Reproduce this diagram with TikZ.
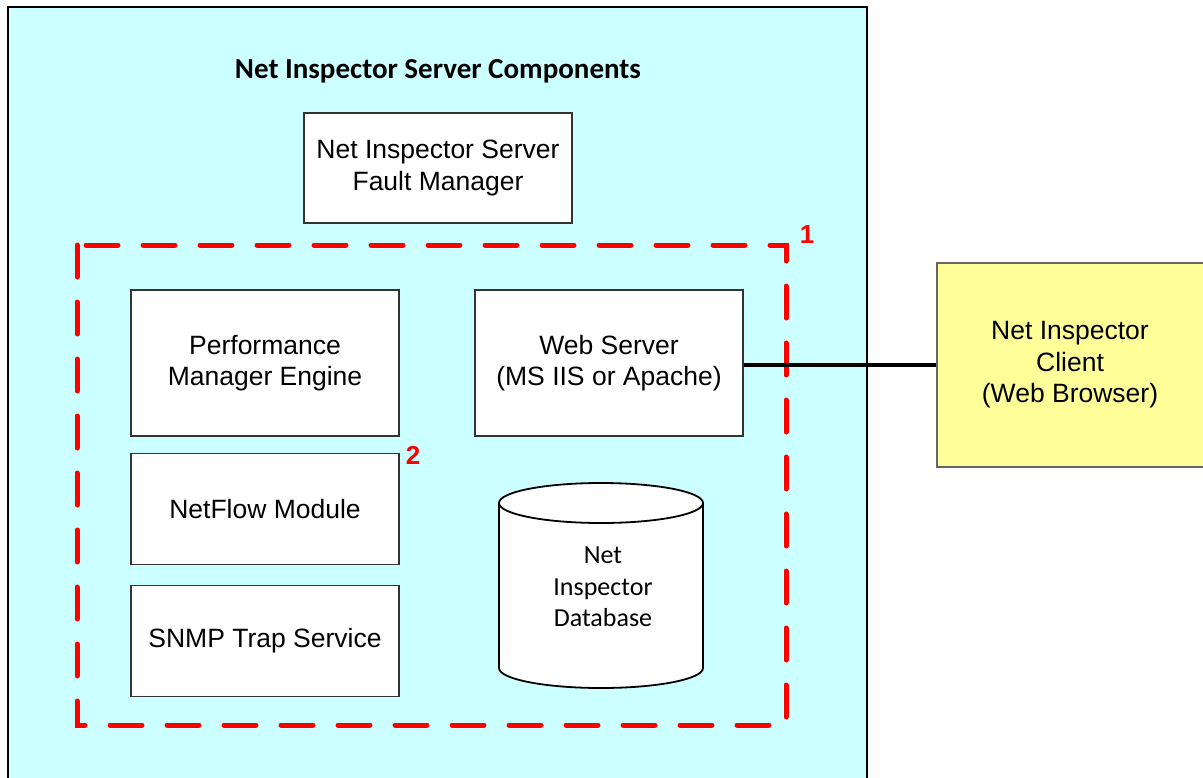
\documentclass[tikz,border=0pt]{standalone}
\usepackage{fontspec}
\setmainfont{Liberation Sans}
\newfontfamily\calfont{Carlito}
\begin{document}
\begin{tikzpicture}[x=1pt,y=-1pt,
  box/.style={draw=black!80, line width=1.2pt, fill=white, inner sep=0pt, align=center,
    font=\fontsize{26.5}{31.5}\selectfont},
  redlabel/.style={text=red, font=\fontsize{26}{30}\selectfont\bfseries, inner sep=0pt}]
\useasboundingbox (0,0) rectangle (1203,777);
% outer server box
\fill[fill={rgb,255:red,204;green,255;blue,255}] (8,7) rectangle (867,790);
\draw[line width=2.6pt] (8,790) -- (8,7) -- (867,7) -- (867,790);
\node[font=\calfont\fontsize{29}{33}\selectfont\bfseries, inner sep=0pt] (title) at (438,71) {Net Inspector Server Components};
% fault manager
\node[box, minimum width=268pt, minimum height=110pt] (fault) at (438,168) {Net Inspector Server\\Fault Manager};
% red dashed group
\draw[red, line width=5pt, line cap=round, dash pattern=on 32pt off 25pt] (77,245) rectangle (786,725);
\node[redlabel] (one) at (807,235) {1};
\node[redlabel] (two) at (413,455) {2};
% inner boxes
\node[box, minimum width=268pt, minimum height=146pt] (perf) at (265,363) {Performance\\Manager Engine};
\node[box, minimum width=268pt, minimum height=146pt] (web) at (609,363) {Web Server\\(MS IIS or Apache)};
\node[box, minimum width=268pt, minimum height=111pt] (netflow) at (265,509) {NetFlow Module};
\node[box, minimum width=268pt, minimum height=111pt] (snmp) at (265,641) {SNMP Trap Service};
% database cylinder
\fill[white] (499,503) -- (499,668) arc[start angle=180, end angle=360, x radius=102pt, y radius=20pt] -- (703,503) -- cycle;
\draw[line width=1.8pt] (499,503) -- (499,668) arc[start angle=180, end angle=360, x radius=102pt, y radius=20pt] -- (703,503);
\draw[line width=1.8pt, fill=white] (601,503) ellipse [x radius=102pt, y radius=20pt];
\node[font=\calfont\fontsize{26}{31.5}\selectfont, align=center, inner sep=0pt] (db) at (603,587) {Net\\Inspector\\Database};
% client
\node[box, draw=black!60, line width=2pt, fill={rgb,255:red,255;green,255;blue,153}, minimum width=267pt, minimum height=204pt] (client) at (1070,365) {Net Inspector\\Client\\(Web Browser)};
% connector
\draw[line width=4.5pt] (web.east |- client.west) -- (client.west);
\end{tikzpicture}
\end{document}
